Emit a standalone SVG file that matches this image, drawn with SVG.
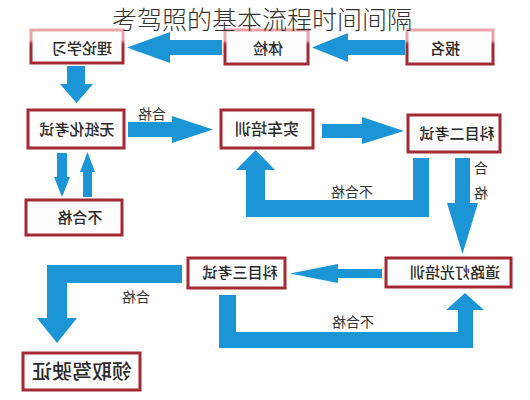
<svg xmlns="http://www.w3.org/2000/svg" width="530" height="400" viewBox="0 0 530 400">
<style>
.box{fill:#fdfdfd;stroke:#a32a33;stroke-width:3}
.boxt{fill:#fdfdfd;stroke:url(#topg);stroke-width:3}
.arr{fill:#1b95d6}
.t{font-family:"Noto Sans CJK SC","Noto Sans",sans-serif;font-size:15px;fill:#2a2a2a;text-anchor:middle;font-weight:500}
.lbl{font-family:"Noto Sans CJK SC","Noto Sans",sans-serif;font-size:14px;fill:#333;text-anchor:middle}
.title{font-family:"Noto Sans CJK SC","Noto Sans",sans-serif;font-size:25px;fill:#333;text-anchor:middle;font-weight:300}
</style>
<defs>
<linearGradient id="topg" x1="0" y1="0" x2="0" y2="1">
<stop offset="0" stop-color="#eaa3aa"/>
<stop offset="0.3" stop-color="#eaa3aa"/>
<stop offset="0.42" stop-color="#a32a33"/>
<stop offset="1" stop-color="#a32a33"/>
</linearGradient>
</defs>
<rect width="530" height="400" fill="#ffffff"/>
<g id="connectors">
<polygon class="arr" points="405,40 348,40 348,33 312,47.5 348,62 348,55 405,55"/>
<polygon class="arr" points="222,40 170,40 170,32 127,47.5 170,63 170,55 222,55"/>
<polygon class="arr" points="67,66 85,66 85,84 93,84 76.5,103 60,84 67,84"/>
<polygon class="arr" points="57,153 67,153 67,177 70,177 62,197 54,177 57,177"/>
<polygon class="arr" points="83,197 92,197 92,172 95,172 87.5,152 80,172 83,172"/>
<polygon class="arr" points="128,122 172,122 172,116 213,129.5 172,143 172,137 128,137"/>
<polygon class="arr" points="322,124 362,124 362,117 404,131 362,144 362,138 322,138"/>
<polygon class="arr" points="413,158 429,158 429,217 246,217 246,170 236,170 255.5,150 275,170 265,170 265,200 413,200"/>
<polygon class="arr" points="455,158 470,158 470,203 478,203 462.5,254 447,203 455,203"/>
<polygon class="arr" points="382,269 338,269 338,264 290,273.5 338,283 338,278 382,278"/>
<polygon class="arr" points="219,295 236,295 236,332 458,332 458,310 446,310 465,293 484,310 473,310 473,348 219,348"/>
<polygon class="arr" points="182,265 182,283 67,283 67,318 77,318 57,343 37,318 47,318 47,265"/>
<text class="lbl" transform="scale(-1,1)" x="-152" y="119">合格</text>
<text class="lbl" transform="scale(-1,1)" x="-352" y="197">不合格</text>
<text class="lbl" transform="scale(-1,1)" x="-481" y="173">合</text>
<text class="lbl" transform="scale(-1,1)" x="-481" y="198">格</text>
<text class="lbl" transform="scale(-1,1)" x="-353" y="327">不合格</text>
<text class="lbl" transform="scale(-1,1)" x="-136" y="302">合格</text>
</g>
<g id="n-lilun">
<rect class="boxt" x="31" y="30" width="92" height="33"/>
<text class="t" transform="scale(-1,1)" x="-82" y="54">理论学习</text>
</g>
<g id="n-tijian">
<rect class="boxt" x="225" y="30" width="83" height="34"/>
<text class="t" transform="scale(-1,1)" x="-268" y="54">体检</text>
</g>
<g id="n-baoming">
<rect class="boxt" x="407" y="30" width="86" height="34"/>
<text class="t" transform="scale(-1,1)" x="-445" y="54">报名</text>
</g>
<g id="n-wuzhi">
<rect class="box" x="28" y="110" width="96" height="38"/>
<text class="t" transform="scale(-1,1)" x="-77" y="135">无纸化考试</text>
</g>
<g id="n-shiche">
<rect class="box" x="221" y="110" width="92" height="38"/>
<text class="t" transform="scale(-1,1)" x="-267" y="135" style="font-size:16px">实车培训</text>
</g>
<g id="n-kemu2">
<rect class="box" x="408" y="115" width="92" height="37"/>
<text class="t" transform="scale(-1,1)" x="-457" y="139">科目二考试</text>
</g>
<g id="n-buhege">
<rect class="box" x="26" y="200" width="96" height="35"/>
<text class="t" transform="scale(-1,1)" x="-80" y="223">不合格</text>
</g>
<g id="n-daolu">
<rect class="box" x="386" y="258" width="125" height="29"/>
<text class="t" transform="scale(-1,1)" x="-455" y="278">道路灯光培训</text>
</g>
<g id="n-kemu3">
<rect class="box" x="188" y="258" width="97" height="30"/>
<text class="t" transform="scale(-1,1)" x="-240" y="278">科目三考试</text>
</g>
<g id="n-lingqu">
<rect class="box" x="23" y="353" width="117" height="37"/>
<text class="t" transform="scale(-1,1)" x="-82" y="379" style="font-size:20px">领取驾驶证</text>
</g>
<text class="title" x="262" y="29">考驾照的基本流程时间间隔</text>
</svg>
